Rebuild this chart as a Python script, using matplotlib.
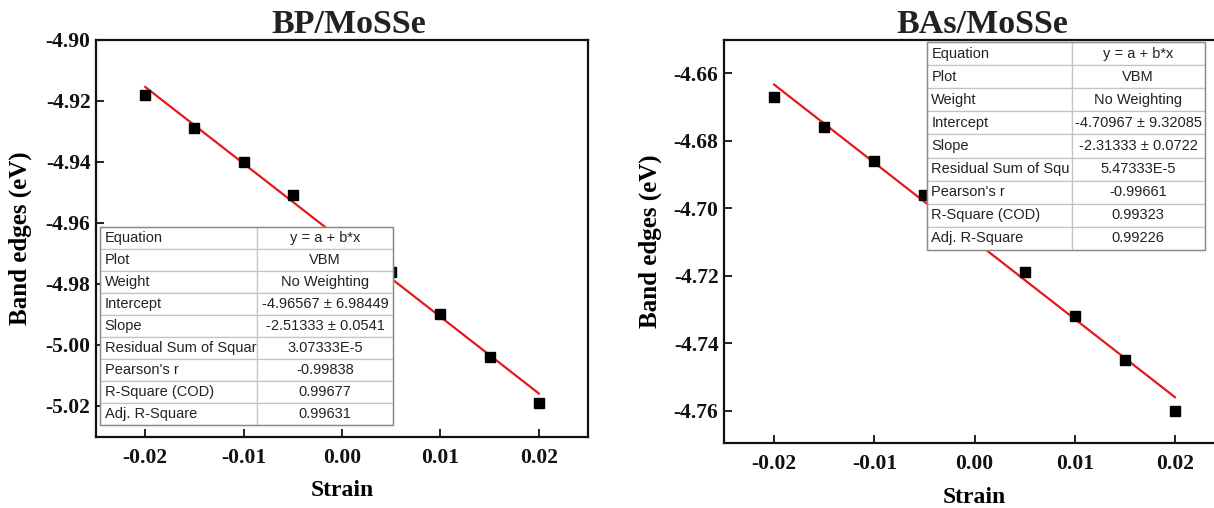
import numpy as np
import matplotlib
matplotlib.use("Agg")
import matplotlib.pyplot as plt

# ---------------- data ----------------
strain = [-0.02, -0.015, -0.01, -0.005, 0.0, 0.005, 0.01, 0.015, 0.02]

bp_vbm = [-4.918, -4.929, -4.940, -4.951, -4.964, -4.976, -4.990, -5.004, -5.019]
bas_vbm = [-4.667, -4.676, -4.686, -4.696, -4.706, -4.719, -4.732, -4.745, -4.760]

bp_intercept, bp_slope = -4.96567, -2.51333
bas_intercept, bas_slope = -4.70967, -2.31333

table_keys = ["Equation", "Plot", "Weight", "Intercept", "Slope",
              "Residual Sum of Squar", "Pearson's r", "R-Square (COD)",
              "Adj. R-Square"]
table_keys_bas = ["Equation", "Plot", "Weight", "Intercept", "Slope",
                  "Residual Sum of Squ", "Pearson's r", "R-Square (COD)",
                  "Adj. R-Square"]
bp_table_vals = ["y = a + b*x", "VBM", "No Weighting", "-4.96567 \u00b1 6.98449",
                 "-2.51333 \u00b1 0.0541", "3.07333E-5", "-0.99838", "0.99677",
                 "0.99631"]
bas_table_vals = ["y = a + b*x", "VBM", "No Weighting", "-4.70967 \u00b1 9.32085",
                  "-2.31333 \u00b1 0.0722", "5.47333E-5", "-0.99661", "0.99323",
                  "0.99226"]

titles = ["BP/MoSSe", "BAs/MoSSe"]
bp_yticks = [-4.90, -4.92, -4.94, -4.96, -4.98, -5.00, -5.02]
bas_yticks = [-4.66, -4.68, -4.70, -4.72, -4.74, -4.76]
xticks = [-0.02, -0.01, 0.00, 0.01, 0.02]

# ---------------- style ----------------
SERIF = ["Liberation Serif", "DejaVu Serif"]
SANS = ["Liberation Sans", "DejaVu Sans"]

fig = plt.figure(figsize=(12.14, 5.08), dpi=100)

ax1 = fig.add_axes([0.0791, 0.1398, 0.4053, 0.7815])
ax2 = fig.add_axes([0.5964, 0.1280, 0.4127, 0.7933])


def style_axes(ax, yticks, ylim, title, label_x, title_x):
    ax.set_xlim(-0.025, 0.025)
    ax.set_ylim(*ylim)
    ax.set_xticks(xticks)
    ax.set_xticklabels(["%.2f" % v for v in xticks])
    ax.set_yticks(yticks)
    ax.set_yticklabels(["%.2f" % v for v in yticks])
    for lab in ax.get_xticklabels() + ax.get_yticklabels():
        lab.set_fontfamily(SERIF)
        lab.set_fontweight("bold")
        lab.set_fontsize(15.5)
    ax.tick_params(axis="both", direction="in", length=6, width=1.3,
                   top=False, right=False, colors="#111111")
    ax.tick_params(axis="x", pad=8)
    ax.tick_params(axis="y", pad=4)
    for sp in ax.spines.values():
        sp.set_linewidth(1.6)
        sp.set_color("#111111")
    ax.set_title(title, fontfamily=SERIF, fontweight="bold", fontsize=24.5,
                 pad=2, color="#222222", x=title_x)
    ax.set_xlabel("Strain", fontfamily=SERIF, fontweight="bold", fontsize=17,
                  va="center")
    ax.set_ylabel("Band edges (eV)", fontfamily=SERIF, fontweight="bold",
                  fontsize=18, va="center")
    ax.xaxis.set_label_coords(0.5, -0.136)
    ax.yaxis.set_label_coords(label_x, 0.5)


def draw_series(ax, y, a, b):
    xs = np.array([min(strain), max(strain)])
    ax.plot(xs, a + b * xs, color="#e3191c", lw=1.6, zorder=2)
    ax.plot(strain, y, ls="none", marker="s", ms=7.5, color="black", zorder=3)


def draw_table(ax, keys, vals, bbox, col_frac):
    cell_text = [[k, v] for k, v in zip(keys, vals)]
    tb = ax.table(cellText=cell_text, bbox=bbox,
                  colWidths=[col_frac, 1 - col_frac], zorder=10)
    tb.auto_set_font_size(False)
    tb.set_fontsize(10.5)
    for (r, c), cell in tb.get_celld().items():
        cell.set_edgecolor("#c4c4c4")
        cell.set_linewidth(0.9)
        cell.set_facecolor("white")
        cell.get_text().set_fontfamily(SANS)
        cell.get_text().set_color("#222222")
        if c == 0:
            cell._loc = "left"
            cell.PAD = 0.03
            cell.get_text().set_ha("left")
        else:
            cell._loc = "center"
            cell.get_text().set_ha("center")
    tb.set_zorder(10)
    # outer border
    x0, y0, w, h = bbox
    ax.add_patch(plt.Rectangle((x0, y0), w, h, transform=ax.transAxes,
                               fill=False, ec="#8a8a8a", lw=1.0, zorder=11,
                               clip_on=False))
    return tb


draw_series(ax1, bp_vbm, bp_intercept, bp_slope)
style_axes(ax1, bp_yticks, (-5.0302, -4.900), titles[0], -0.154, 0.513)
draw_table(ax1, table_keys, bp_table_vals, [0.008, 0.030, 0.596, 0.499], 0.536)

draw_series(ax2, bas_vbm, bas_intercept, bas_slope)
style_axes(ax2, bas_yticks, (-4.7695, -4.6502), titles[1], -0.148, 0.515)
draw_table(ax2, table_keys_bas, bas_table_vals, [0.405, 0.479, 0.555, 0.516], 0.52)

fig.savefig("out.png", dpi=100)
